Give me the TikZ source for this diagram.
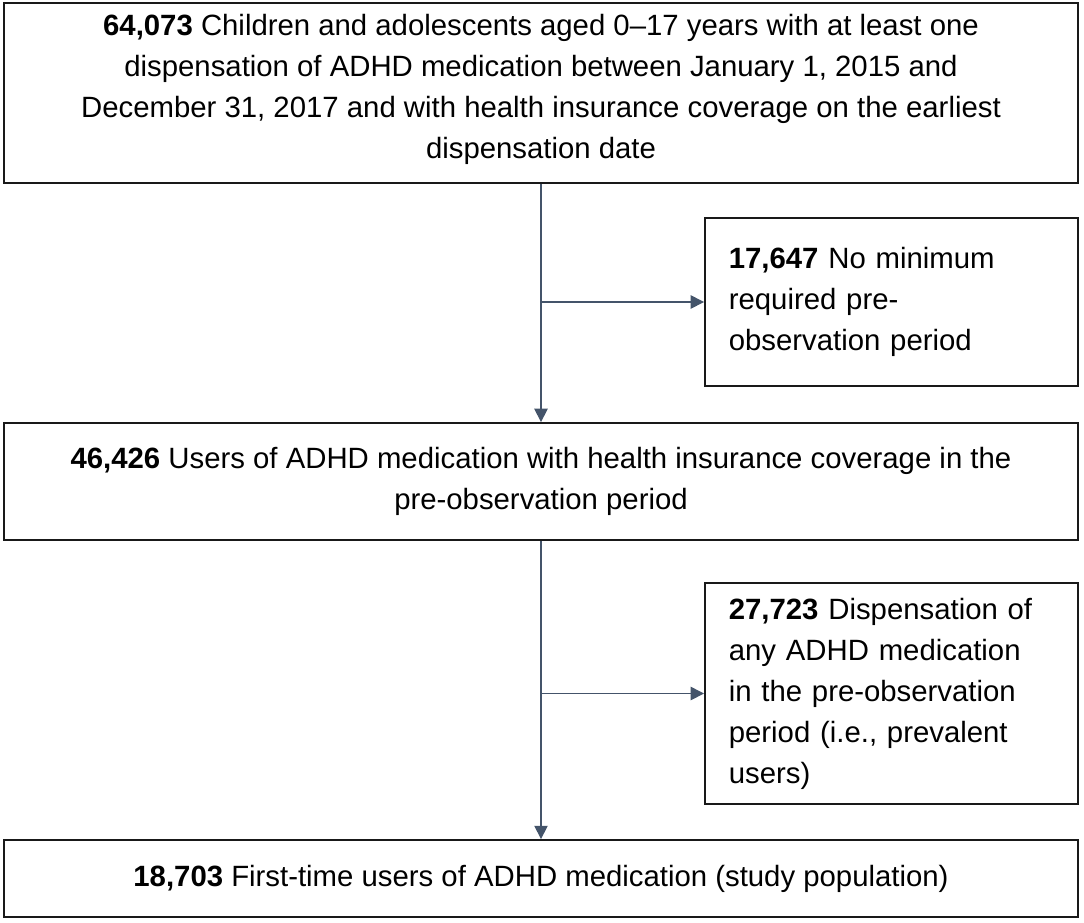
\documentclass[tikz,border=0pt]{standalone}
\usepackage{fontspec}
\setmainfont{Liberation Sans}
\usepackage{tikz}
\usetikzlibrary{calc,positioning,arrows.meta}

\definecolor{linkblue}{HTML}{44546A}

\begin{document}
\begin{tikzpicture}[x=0.75pt,y=-0.75pt,
		mainbox/.style={draw=black!90,line width=1.4pt,minimum width=805.5pt,align=center,inner sep=0pt,font=\fontsize{22}{30.75}\selectfont},
		sidebox/.style={draw=black!90,line width=1.4pt,minimum width=279.75pt,text width=244pt,inner xsep=17.9pt,inner ysep=0pt,align=left,font=\fontsize{22}{30.75}\selectfont},
		flow/.style={draw=linkblue,line width=1.1pt,-{Triangle[length=10pt,width=10pt]}}]
		\useasboundingbox (0,0) rectangle (1084,922);

		\node[mainbox,minimum height=135pt] (cohort) at (541,93) {\textbf{64,073} Children and adolescents aged 0--17 years with at least one\\dispensation of ADHD medication between January 1, 2015 and\\December 31, 2017 and with health insurance coverage on the earliest\\dispensation date\vspace{5pt}};
		\node[sidebox,minimum height=126pt] (nopre) at (891.5,302) {\textbf{17,647} No minimum\\required pre-\\observation period};
		\node[mainbox,minimum height=87.75pt] (insured) at (541,481.5) {\textbf{46,426} Users of ADHD medication with health insurance coverage in the\\pre-observation period};
		\node[sidebox,minimum height=165.75pt] (prevalent) at (891.5,693.5) {\textbf{27,723} Dispensation of\\any ADHD medication\\in the pre-observation\\period (i.e., prevalent\\users)};
		\node[mainbox,minimum height=57.75pt] (study) at (541,878.5) {\textbf{18,703} First-time users of ADHD medication (study population)};

		\draw[flow] (cohort.south) -- (insured.north);
		\draw[flow] (cohort.south |- nopre.west) -- (nopre.west);
		\draw[flow] (insured.south) -- (study.north);
		\draw[flow] (insured.south |- prevalent.west) -- (prevalent.west);
	\end{tikzpicture}
\end{document}
